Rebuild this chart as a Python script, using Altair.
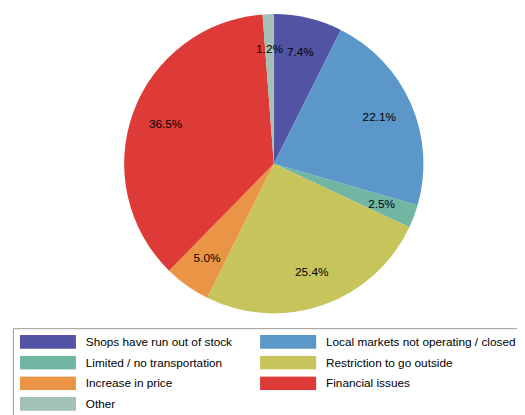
import altair as alt
import pandas as pd

categories = [
    "Shops have run out of stock",
    "Local markets not operating / closed",
    "Limited / no transportation",
    "Restriction to go outside",
    "Increase in price",
    "Financial issues",
    "Other",
]
values = [7.4, 22.1, 2.5, 25.4, 5.0, 36.5, 1.2]
colors = ["#5254A3", "#5B98C9", "#71B5A3", "#C8C45C", "#E99545", "#DD3A38", "#A3C0B9"]

# legend is laid out column by column: list entries in that order
legend_order = [categories[i] for i in (0, 2, 4, 6, 1, 3, 5)]
legend_colors = [colors[i] for i in (0, 2, 4, 6, 1, 3, 5)]

df = pd.DataFrame({
    "category": categories,
    "value": values,
    "idx": list(range(len(categories))),
    "label": [f"{v:.1f}%" for v in values],
})

cx, cy, R = 270, 155, 152

base = alt.Chart(df).encode(
    theta=alt.Theta("value:Q", stack=True),
    order=alt.Order("idx:Q"),
    x=alt.value(cx),
    y=alt.value(cy),
)

arcs = base.mark_arc(outerRadius=R).encode(
    color=alt.Color(
        "category:N",
        sort=legend_order,
        scale=alt.Scale(domain=legend_order, range=legend_colors),
        legend=alt.Legend(
            title=None,
            orient="none",
            legendX=5,
            legendY=322,
            columns=2,
            columnPadding=28,
            rowPadding=7,
            padding=7,
            strokeColor="#999999",
            fillColor="#ffffff",
            symbolType="M-1,-0.25H1V0.25H-1Z",
            symbolSize=3249,
            symbolStrokeWidth=0,
            symbolOpacity=1,
            labelOffset=10,
            labelFont="Liberation Sans",
            labelFontSize=12,
            labelColor="#000000",
            labelLimit=400,
            labelExpr="datum.label + '\u00a0\u00a0\u00a0'",
            clipHeight=14,
        ),
    )
)

texts = base.mark_text(
    radius=117, font="Liberation Sans", fontSize=12, color="#000000"
).encode(text="label:N")

chart = (
    alt.layer(arcs, texts)
    .properties(
        width=517,
        height=407,
        autosize=alt.AutoSizeParams(type="none"),
        padding=0,
    )
    .configure_view(strokeWidth=0)
)

chart.save("out.html", embed_options={"renderer": "svg", "actions": False})
